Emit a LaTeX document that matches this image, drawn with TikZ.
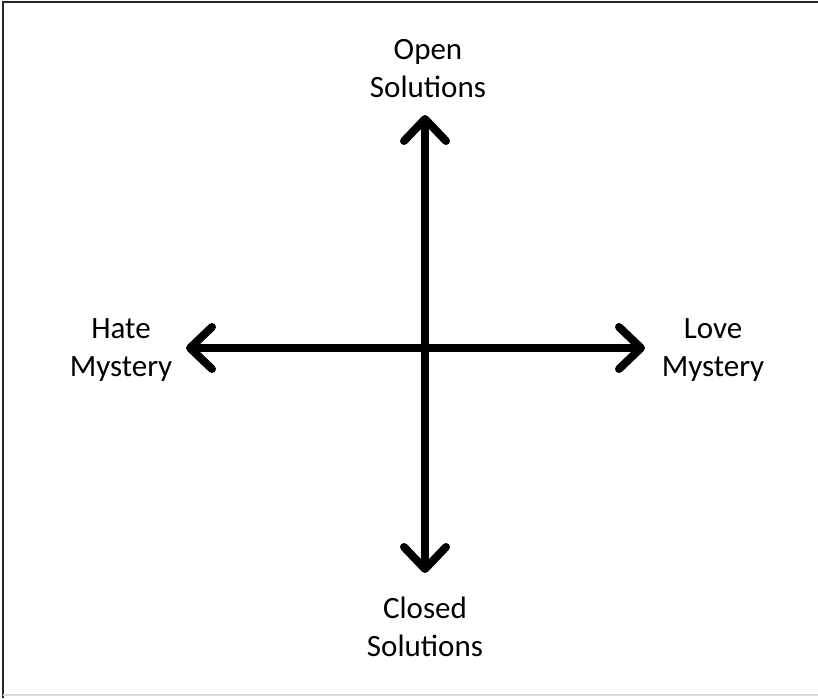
\documentclass[tikz,border=0pt]{standalone}
\usepackage{fontspec}
\setmainfont{Carlito}
\usetikzlibrary{arrows.meta}
\tikzset{
  axis/.style={line width=8pt, {Straight Barb[length=22pt,width=42pt,line cap=round,line join=round]}-{Straight Barb[length=22pt,width=42pt,line cap=round,line join=round]}},
  lbl/.style={align=center, font=\fontsize{31}{38}\selectfont, inner sep=0pt}
}
\begin{document}
\begin{tikzpicture}[x=1pt,y=-1pt]
\useasboundingbox (0,0) rectangle (818,698);
\fill[white] (0,0) rectangle (818,698);
\draw[line width=2pt, black!85] (3,698) -- (3,2) -- (818,2);
\draw[line width=1.5pt, black!15] (3,695) -- (818,695);
\coordinate (top) at (425,115);
\coordinate (bottom) at (425,573);
\coordinate (left) at (186,348);
\coordinate (right) at (645,348);
\draw[axis] (bottom) -- (top);
\draw[axis] (left) -- (right);
\node[lbl] (open) at (428,69) {Open\\Solutions};
\node[lbl] (closed) at (425,627) {Closed\\Solutions};
\node[lbl] (hate) at (121,350) {Hate\\Mystery};
\node[lbl] (love) at (713,350) {Love\\Mystery};
\end{tikzpicture}
\end{document}
